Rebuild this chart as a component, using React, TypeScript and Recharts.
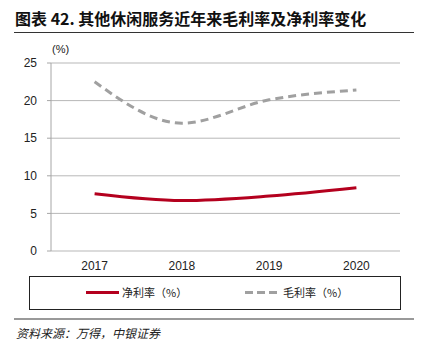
import React from 'react';
import { LineChart, Line, XAxis, YAxis, CartesianGrid } from 'recharts';

const years = ['2017', '2018', '2019', '2020'];
const netMargin = [7.6, 6.7, 7.3, 8.4];
const grossMargin = [22.5, 17.0, 20.1, 21.4];
const yTicks = [0, 5, 10, 15, 20, 25];
const boundaryTicks = [0, 1, 2, 3, 4];

const data = years.map((year, i) => ({ year, net: netMargin[i], gross: grossMargin[i] }));

const RED = '#b4001e';
const GRAY = '#a0a0a0';
const cjk = '"Noto Sans CJK SC", "Liberation Sans", sans-serif';
const latin = '"Liberation Sans", Arial, sans-serif';

export default function App() {
  return (
    <div style={{ position: 'absolute', left: 0, top: 0, width: 422, height: 350, background: '#fff', fontFamily: cjk }}>
      <div style={{ position: 'absolute', left: 15, top: 6, fontSize: 16, fontWeight: 700, color: '#111', whiteSpace: 'nowrap' }}>
        图表 42. 其他休闲服务近年来毛利率及净利率变化
      </div>
      <div style={{ position: 'absolute', left: 14, top: 32, width: 400, height: 1, background: '#333' }} />
      <div style={{ position: 'absolute', left: 52, top: 43, fontSize: 11, fontFamily: latin, color: '#222' }}>(%)</div>

      <LineChart width={422} height={350} data={data} margin={{ top: 63, right: 22, left: 0, bottom: 79 }}>
        <CartesianGrid vertical={false} stroke="#9a9a9a" strokeWidth={0.7} />
        <XAxis
          xAxisId="b"
          type="number"
          domain={[0, 4]}
          ticks={boundaryTicks}
          allowDataOverflow
          height={0}
          axisLine={{ stroke: '#c4c4c4', strokeWidth: 2 }}
          tickLine={{ stroke: '#a6a6a6' }}
          tickSize={5}
          tickFormatter={() => ''}
        />
        <XAxis
          dataKey="year"
          padding={{ left: 43.6, right: 43.6 }}
          height={20}
          axisLine={false}
          tickLine={false}
          tick={{ fontSize: 12, fill: '#222', fontFamily: latin, dy: 2 }}
        />
        <YAxis
          width={51}
          domain={[0, 25]}
          ticks={yTicks}
          axisLine={{ stroke: '#a6a6a6' }}
          tickLine={{ stroke: '#a6a6a6' }}
          tickSize={4}
          tickMargin={10}
          tick={{ fontSize: 12, fill: '#222', fontFamily: latin }}
        />
        <Line type="monotone" dataKey="gross" stroke={GRAY} strokeWidth={3} strokeDasharray="8 5" dot={false} isAnimationActive={false} />
        <Line type="monotone" dataKey="net" stroke={RED} strokeWidth={3} dot={false} isAnimationActive={false} />
      </LineChart>

      <div style={{ position: 'absolute', left: 29, top: 276, width: 370, height: 32, border: '1px solid #222' }} />
      <div style={{ position: 'absolute', left: 86, top: 291, width: 33, height: 3, background: RED }} />
      <div style={{ position: 'absolute', left: 122, top: 284, fontSize: 11, color: '#222' }}>净利率（%）</div>
      <div style={{ position: 'absolute', left: 245, top: 291, width: 32, height: 3, background: `repeating-linear-gradient(to right, ${GRAY} 0 8px, transparent 8px 12px)` }} />
      <div style={{ position: 'absolute', left: 283, top: 284, fontSize: 11, color: '#222' }}>毛利率（%）</div>

      <div style={{ position: 'absolute', left: 14, top: 318, width: 400, height: 1.5, background: '#999' }} />
      <div style={{ position: 'absolute', left: 16, top: 324, fontSize: 12, fontStyle: 'italic', color: '#222' }}>资料来源：万得，中银证券</div>
    </div>
  );
}
